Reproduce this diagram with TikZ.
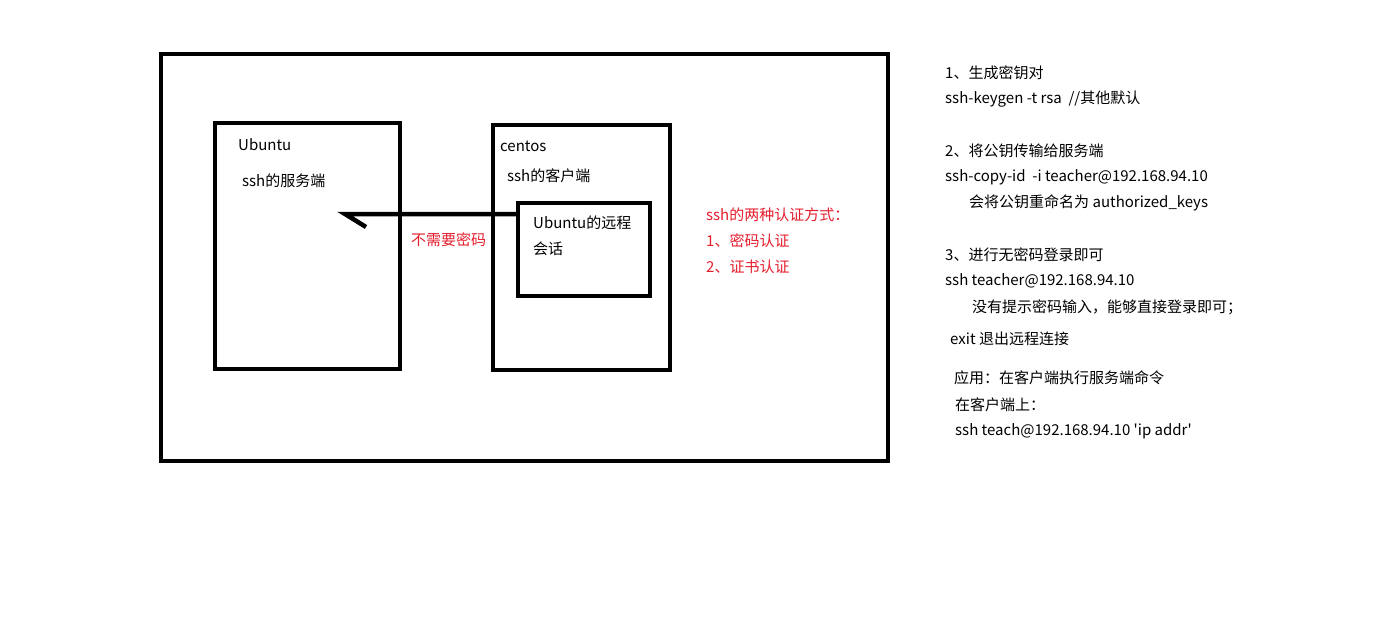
\documentclass[tikz,border=0pt]{standalone}
\usepackage{fontspec}
\setmainfont{Noto Sans CJK SC}[Ligatures=TeXOff]
\begin{document}
\begin{tikzpicture}[x=1pt,y=-1pt,
  txt/.style={anchor=west,inner sep=0pt,font=\fontsize{15}{18}\selectfont},
  red/.style={text={rgb,255:red,228;green,30;blue,45}},
  box/.style={draw,line width=4pt,anchor=north west,inner sep=0pt,outer sep=0pt},
  conn/.style={draw,line width=4.5pt}]
\useasboundingbox (0,0) rectangle (1382,635);
\fill[white] (0,0) rectangle (1382,635);
\draw[line width=4pt] (161,54) rectangle (888,461);
\node[box,minimum width=185pt,minimum height=246pt] (ubu) at (215,123) {};
\node[box,minimum width=177pt,minimum height=245pt] (cen) at (493,125) {};
\node[box,minimum width=132pt,minimum height=93pt] (inner) at (518,203) {};
\coordinate (tip) at (345,214);
\coordinate (hook) at (366,227);
\draw[conn] (inner.west |- tip) -- (tip) -- (hook);
\node[txt] (t1) at (238,145) {Ubuntu};
\node[txt] (t2) at (242,181) {ssh的服务端};
\node[txt] (t3) at (500,146) {centos};
\node[txt] (t4) at (507,176) {ssh的客户端};
\node[txt] (t5) at (533,223) {Ubuntu的远程};
\node[txt] (t6) at (533,249) {会话};
\node[txt,red] (t7) at (411,240) {不需要密码};
\node[txt,red] (r1) at (706,215) {ssh的两种认证方式：};
\node[txt,red] (r2) at (706,241) {1、密码认证};
\node[txt,red] (r3) at (706,267) {2、证书认证};
\node[txt] (n1) at (945,73) {1、生成密钥对};
\node[txt] (n2) at (945,99) {ssh-keygen -t rsa\ \ //其他默认};
\node[txt] (n3) at (945,151) {2、将公钥传输给服务端};
\node[txt] (n4) at (945,177) {ssh-copy-id\ \ -i teacher@192.168.94.10};
\node[txt] (n5) at (969,203) {会将公钥重命名为 authorized\_keys};
\node[txt] (n6) at (945,255) {3、进行无密码登录即可};
\node[txt] (n7) at (945,281) {ssh teacher@192.168.94.10};
\node[txt] (n8) at (972,307) {没有提示密码输入，能够直接登录即可；};
\node[txt] (n9) at (950,339) {exit 退出远程连接};
\node[txt] (n10) at (954,378) {应用：在客户端执行服务端命令};
\node[txt] (n11) at (955,405) {在客户端上：};
\node[txt] (n12) at (955,431) {ssh teach@192.168.94.10 'ip addr'};
\end{tikzpicture}
\end{document}
